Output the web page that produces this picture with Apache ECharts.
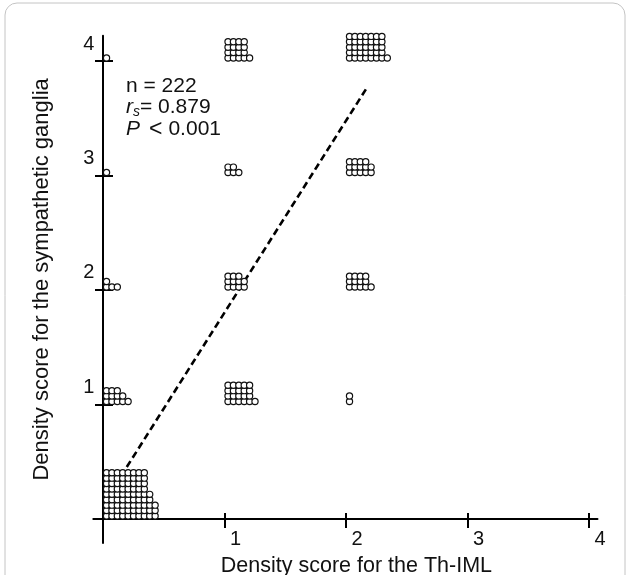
<!DOCTYPE html>
<html>
<head>
<meta charset="utf-8">
<script src="https://cdn.jsdelivr.net/npm/echarts@6/dist/echarts.min.js"></script>
<style>
html,body{margin:0;padding:0;background:#fff;}
#c{width:630px;height:575px;}
</style>
</head>
<body>
<div id="c"></div>
<script>
// Data: each cluster = one (Th-IML score, ganglia score) pair; rows of dots, bottom row first
const clusterX = [0, 0, 0, 0, 0, 1, 1, 1, 1, 2, 2, 2, 2];
const clusterY = [0, 1, 2, 3, 4, 1, 2, 3, 4, 1, 2, 3, 4];
const clusterRows = [
  [10, 10, 10, 9, 9, 8, 8, 8, 8],
  [5, 4, 3],
  [3, 1],
  [1],
  [1],
  [6, 5, 5, 5],
  [4, 4, 3],
  [3, 2],
  [5, 4, 4, 4],
  [1, 1],
  [5, 4, 4],
  [5, 5, 4],
  [8, 7, 7, 7, 7]
];
const lineX = [0.05, 2.18];
const lineY = [0.21, 3.78];
const xTicks = [1, 2, 3, 4];
const yTicks = [1, 2, 3, 4];
const statN = '222';
const statR = '0.879';
const statP = '0.001';

const FONT = 'Liberation Sans, Arial, sans-serif';
const STEP = 5.4;

const dots = [];
clusterX.forEach((cx, k) => {
  clusterRows[k].forEach((n, r) => {
    for (let c = 0; c < n; c++) {
      dots.push({ value: [cx, clusterY[k]], symbolOffset: [3.5 + c * STEP, -(3 + r * STEP)] });
    }
  });
});

const xMin = -0.08, xMax = 4.07, yMin = -0.21, yMax = 4.22;

const baseX = {
  type: 'value', min: xMin, max: xMax, position: 'bottom',
  axisLine: { show: true, onZero: true, onZeroAxisIndex: 0, lineStyle: { color: '#000', width: 2 } },
  splitLine: { show: false }
};
const baseY = {
  type: 'value', min: yMin, max: yMax, position: 'left',
  axisLine: { show: true, onZero: true, onZeroAxisIndex: 0, lineStyle: { color: '#000', width: 2 } },
  splitLine: { show: false }
};

const chart = echarts.init(document.getElementById('c'), null, { renderer: 'canvas' });
chart.setOption({
  animation: false,
  backgroundColor: '#fff',
  grid: { left: 93.3, right: 32.5, top: 35.8, bottom: 32, containLabel: false, outerBoundsMode: 'none' },
  xAxis: [
    Object.assign({}, baseX, {
      axisTick: { show: true, inside: false, length: 9, customValues: xTicks, lineStyle: { color: '#000', width: 2 } },
      axisLabel: { show: true, customValues: xTicks, margin: -14, fontSize: 20, fontFamily: FONT, color: '#111',
        align: 'left', verticalAlign: 'top', formatter: v => ' ' + v, hideOverlap: false },
      name: 'Density score for the Th-IML', nameLocation: 'middle', nameGap: 23, nameMoveOverlap: false,
      nameTextStyle: { fontSize: 21.5, fontFamily: FONT, color: '#111', verticalAlign: 'middle', padding: [0, 0, 0, 22] }
    }),
    Object.assign({}, baseX, {
      axisLine: { show: false, onZero: true, onZeroAxisIndex: 0 },
      axisTick: { show: true, inside: true, length: 6, customValues: xTicks, lineStyle: { color: '#000', width: 2 } },
      axisLabel: { show: false }
    })
  ],
  yAxis: [
    Object.assign({}, baseY, {
      axisTick: { show: true, inside: false, length: 8, customValues: yTicks, lineStyle: { color: '#000', width: 2 } },
      axisLabel: { show: true, customValues: yTicks, margin: -1, fontSize: 20, fontFamily: FONT, color: '#111',
        align: 'right', verticalAlign: 'bottom', lineHeight: 34, hideOverlap: false },
      name: 'Density score for the sympathetic ganglia', nameLocation: 'middle', nameGap: 51, nameMoveOverlap: false,
      nameTextStyle: { fontSize: 22, fontFamily: FONT, color: '#111', verticalAlign: 'middle', padding: [0, 0, 0, 20] }
    }),
    Object.assign({}, baseY, {
      axisLine: { show: false, onZero: true, onZeroAxisIndex: 0 },
      axisTick: { show: true, inside: true, length: 10, customValues: yTicks, lineStyle: { color: '#000', width: 2 } },
      axisLabel: { show: false }
    })
  ],
  series: [
    {
      type: 'line', xAxisIndex: 0, yAxisIndex: 0, z: 2,
      data: lineX.map((x, i) => [x, lineY[i]]),
      symbol: 'none', silent: true,
      lineStyle: { color: '#000', width: 2.6, type: [7, 4] }
    },
    {
      type: 'scatter', xAxisIndex: 0, yAxisIndex: 0, z: 3,
      data: dots, symbol: 'circle', symbolSize: 6.2,
      itemStyle: { color: '#fff', borderColor: '#111', borderWidth: 1.2, opacity: 1 }
    }
  ],
  graphic: [
    { type: 'rect', z: -1, shape: { x: 5, y: 3, width: 620, height: 590, r: 12 },
      style: { fill: 'none', stroke: '#c4c4c4', lineWidth: 1 } },
    { type: 'text', left: 126, top: 76, style: { text: 'n = ' + statN, font: '21px ' + FONT, fill: '#111' } },
    { type: 'text', left: 126, top: 97, style: {
      text: '{i|r}{s|s}{t|= ' + statR + '}',
      rich: {
        i: { fontSize: 21, fontStyle: 'italic', fontFamily: FONT, fill: '#111' },
        s: { fontSize: 14, fontStyle: 'italic', fontFamily: FONT, fill: '#111', padding: [9, 0, 0, 0] },
        t: { fontSize: 21, fontFamily: FONT, fill: '#111' }
      } } },
    { type: 'text', left: 126, top: 118, style: {
      text: '{i|P}{lt|<}{t|0.001}',
      rich: {
        i: { fontSize: 21, fontStyle: 'italic', fontFamily: FONT, fill: '#111' },
        lt: { fontSize: 23, fontFamily: FONT, fill: '#111', padding: [0, 6, 0, 9] },
        t: { fontSize: 21, fontFamily: FONT, fill: '#111' }
      } } }
  ]
});
</script>
</body>
</html>
